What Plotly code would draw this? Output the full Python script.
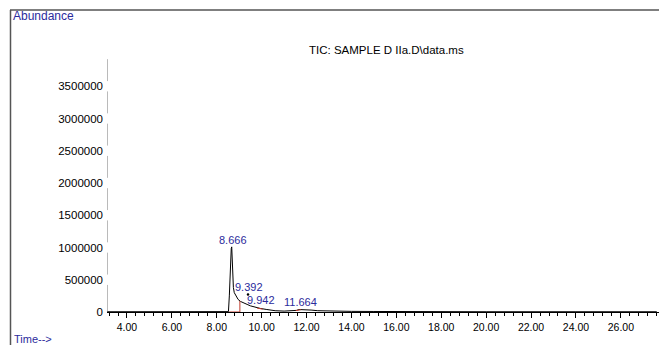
import plotly.graph_objects as go

# ---- data ----
rt_min = [3.11, 5.0, 7.0, 8.40, 8.52, 8.56, 8.59, 8.62, 8.645, 8.666, 8.69, 8.71, 8.74,
          8.78, 8.85, 8.95, 9.05, 9.20, 9.35, 9.50, 9.70, 9.942, 10.2, 10.6, 11.0,
          11.4, 11.55, 11.664, 11.8, 12.0, 12.2, 12.5, 13.0, 14.0, 15.0, 16.0, 17.0,
          20.0, 24.0, 27.6]
abundance = [4000, 4000, 4000, 4500, 6000, 250000, 650000, 880000, 985000, 1010000, 820000,
             520000, 380000, 300000, 250000, 195000, 165000, 135000, 118000, 95000, 72000,
             55000, 40000, 20000, 14000, 15000, 25000, 38000, 33000, 36000, 30000, 20000,
             14000, 10000, 8000, 6000, 4500, 4000, 4000, 4000]

peak_rt = [8.666, 9.392, 9.942, 11.664]
peak_labels = ["8.666", "9.392", "9.942", "11.664"]
peak_label_y = [1010000, 285000, 70000, 39000]

spike_rt = [9.392]
spike_val = [270000]

integ_x = [8.55, 9.03, 9.03, None, 9.80, 10.05, None, 11.52, 11.75]
integ_y = [0, 0, 171000, None, 60000, 45000, None, 22000, 36000]

y_ticks = [0, 500000, 1000000, 1500000, 2000000, 2500000, 3000000, 3500000]
x_ticks = [4, 6, 8, 10, 12, 14, 16, 18, 20, 22, 24, 26]
x_range = [3.11, 27.70]
y_range = [0, 4000000]

title_text = "TIC: SAMPLE D IIa.D\\data.ms"
FONT = "Liberation Sans"
BLUE = "#2b2b9c"

fig = go.Figure()
fig.add_trace(go.Scatter(x=rt_min, y=abundance, mode="lines",
                         line=dict(color="black", width=1), hoverinfo="skip"))
fig.add_trace(go.Scatter(x=integ_x, y=integ_y, mode="lines",
                         line=dict(color="#c0392b", width=1), hoverinfo="skip"))
fig.add_trace(go.Scatter(x=spike_rt, y=spike_val, mode="markers",
                         marker=dict(color="black", size=2.5), hoverinfo="skip"))

for rt, lab, yy in zip(peak_rt, peak_labels, peak_label_y):
    fig.add_annotation(x=rt, y=yy, text=lab, showarrow=False, yanchor="bottom",
                       xanchor="center", font=dict(family=FONT, size=11, color=BLUE),
                       yshift=-1, xshift=1)

# y axis drawn as segments between labels
for k in range(len(y_ticks)):
    y0 = y_ticks[k] + (80000 if k > 0 else 0)
    y1 = y_ticks[k] + 500000 - 80000
    fig.add_shape(type="line", xref="x", yref="y", x0=x_range[0], x1=x_range[0],
                  y0=y0, y1=y1, line=dict(color="#777", width=1))

# frame (paper coords derived from pixel layout)
W, H = 659, 345
L, R, T, B = 107, 0, 54, 33
pw, ph = W - L - R, H - T - B
def px(x):
    return (x - L) / pw
def py(y):
    return (H - B - y) / ph

fig.add_shape(type="line", xref="paper", yref="paper", x0=px(10), x1=px(659),
              y0=py(10), y1=py(10), line=dict(color="#555", width=1.5))
fig.add_shape(type="line", xref="paper", yref="paper", x0=px(10.5), x1=px(10.5),
              y0=py(10), y1=py(345), line=dict(color="#555", width=1.5))

fig.add_annotation(xref="paper", yref="paper", x=px(11), y=py(16), text="Abundance",
                   showarrow=False, xanchor="left", yanchor="middle",
                   font=dict(family=FONT, size=12, color=BLUE))
fig.add_annotation(xref="paper", yref="paper", x=px(12), y=py(339), text="Time-->",
                   showarrow=False, xanchor="left", yanchor="middle",
                   font=dict(family=FONT, size=11, color=BLUE))
fig.add_annotation(xref="paper", yref="paper", x=px(386), y=py(50), text=title_text,
                   showarrow=False, xanchor="center", yanchor="middle",
                   font=dict(family=FONT, size=11.5, color="black"))

fig.update_layout(
    width=W, height=H, margin=dict(l=L, r=R, t=T, b=B),
    paper_bgcolor="white", plot_bgcolor="white", showlegend=False,
    font=dict(family=FONT, size=11, color="black"),
)
fig.update_xaxes(range=x_range, tickvals=x_ticks,
                 ticktext=[f"{v:.2f}" for v in x_ticks],
                 showgrid=False, zeroline=False, showline=True, linecolor="black",
                 linewidth=1, ticks="outside", ticklen=5, tickcolor="black",
                 tickfont=dict(family=FONT, size=10.5),
                 minor=dict(dtick=0.4, tick0=4, ticks="outside", ticklen=3,
                            tickcolor="black", showgrid=False))
fig.update_yaxes(range=y_range, tickvals=y_ticks, ticktext=[str(v) for v in y_ticks],
                 showgrid=False, zeroline=False, showline=False, ticks="",
                 ticklabelstandoff=3, tickfont=dict(family=FONT, size=11.5))

fig.write_html("out.html", config={"displayModeBar": False},
               post_script="document.body.style.margin='0';document.body.style.overflow='hidden';")
